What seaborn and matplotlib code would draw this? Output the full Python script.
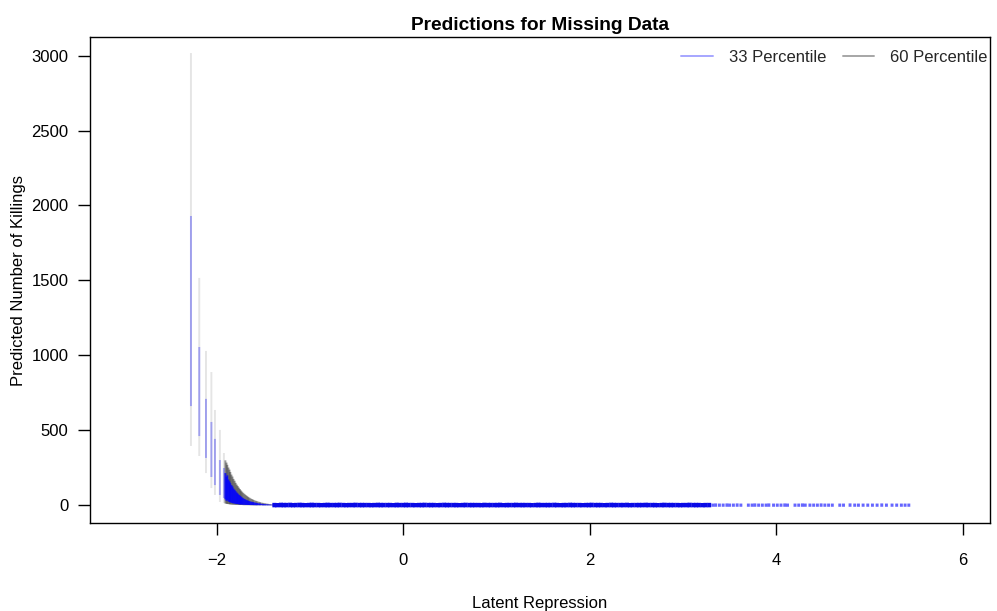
import numpy as np
import pandas as pd
import matplotlib
matplotlib.use("Agg")
import matplotlib.pyplot as plt
from matplotlib.lines import Line2D
import seaborn as sns

# ---------------- data ----------------
# sparse, individually visible intervals at the far left
sparse_x       = [-2.274, -2.185, -2.113, -2.055, -2.017, -1.964, -1.921]
sparse_blue_lo = [662, 462, 316, 189, 135, 69, 49]
sparse_blue_hi = [1930, 1056, 710, 556, 443, 302, 249]
sparse_grey_lo = [396, 329, 215, 115, 69, 22, 15]
sparse_grey_hi = [3017, 1517, 1030, 889, 636, 503, 349]

# dense cluster of intervals
dense_x = [-1.905, -1.893, -1.884, -1.872, -1.861, -1.852, -1.840, -1.829, -1.818, -1.806,
           -1.795, -1.783, -1.772, -1.760, -1.748, -1.737, -1.725, -1.713, -1.700, -1.688,
           -1.675, -1.662, -1.649, -1.636, -1.622, -1.608, -1.594, -1.579, -1.564, -1.549,
           -1.533, -1.517, -1.500, -1.483, -1.465, -1.447, -1.428, -1.409, -1.390]
dense_blue_lo = [40, 30, 35, 26, 22, 20, 17, 15, 13, 12,
                 10, 9, 8, 7, 6, 6, 5, 4, 4, 3,
                 3, 3, 2, 2, 2, 2, 1, 1, 1, 1,
                 1, 1, 0, 0, 0, 0, 0, 0, 0]
dense_blue_hi = [215, 190, 200, 172, 160, 148, 135, 126, 112, 104,
                 94, 85, 78, 70, 64, 58, 52, 47, 42, 38,
                 34, 31, 28, 25, 23, 21, 19, 17, 15, 13,
                 12, 10, 9, 8, 7, 6, 5, 4, 4]
dense_grey_lo = [12, 10, 9, 8, 7, 6, 5, 5, 4, 4,
                 3, 3, 3, 2, 2, 2, 2, 1, 1, 1,
                 1, 1, 1, 0, 0, 0, 0, 0, 0, 0,
                 0, 0, 0, 0, 0, 0, 0, 0, 0]
dense_grey_hi = [300, 285, 270, 252, 238, 222, 205, 192, 176, 164,
                 150, 138, 128, 118, 108, 99, 91, 83, 76, 69,
                 63, 57, 52, 47, 42, 38, 34, 30, 27, 24,
                 21, 18, 16, 14, 12, 10, 8, 7, 5]

# flat run of near-zero intervals
flat_x = [-1.38, -1.35, -1.31, -1.28, -1.25, -1.21, -1.18, -1.15, -1.11, -1.08,
          -1.05, -1.01, -0.98, -0.95, -0.91, -0.88, -0.84, -0.81, -0.78, -0.74,
          -0.71, -0.68, -0.64, -0.61, -0.58, -0.54, -0.51, -0.47, -0.44, -0.41,
          -0.37, -0.34, -0.31, -0.27, -0.24, -0.21, -0.17, -0.14, -0.10, -0.07,
          -0.04, 0.00, 0.03, 0.06, 0.10, 0.13, 0.17, 0.20, 0.23, 0.27,
          0.30, 0.33, 0.37, 0.40, 0.44, 0.47, 0.50, 0.54, 0.57, 0.60,
          0.64, 0.67, 0.71, 0.74, 0.77, 0.81, 0.84, 0.87, 0.91, 0.94,
          0.98, 1.01, 1.04, 1.08, 1.11, 1.14, 1.18, 1.21, 1.25, 1.28,
          1.31, 1.35, 1.38, 1.42, 1.45, 1.48, 1.52, 1.55, 1.58, 1.62,
          1.65, 1.69, 1.72, 1.75, 1.79, 1.82, 1.85, 1.89, 1.92, 1.96,
          1.99, 2.02, 2.06, 2.09, 2.12, 2.16, 2.19, 2.23, 2.26, 2.29,
          2.33, 2.36, 2.40, 2.43, 2.46, 2.50, 2.53, 2.56, 2.60, 2.63,
          2.67, 2.70, 2.73, 2.77, 2.80, 2.84, 2.87, 2.90, 2.94, 2.97,
          3.00, 3.04, 3.07, 3.11, 3.14, 3.17, 3.21, 3.24, 3.28]
flat_hi = [3, 2, 4, 3, 3, 4, 2, 3, 4, 3,
           2, 3, 4, 3, 3, 2, 3, 4, 3, 3,
           3, 4, 3, 2, 3, 3, 4, 3, 3, 3,
           3, 2, 3, 4, 3, 3, 3, 3, 2, 4,
           3, 3, 4, 3, 3, 2, 3, 3, 4, 3,
           3, 3, 2, 3, 4, 3, 3, 3, 3, 2,
           3, 4, 3, 3, 3, 3, 2, 4, 3, 3,
           3, 3, 4, 2, 3, 3, 3, 4, 3, 3,
           3, 3, 2, 3, 4, 3, 3, 3, 3, 4,
           3, 2, 3, 3, 4, 3, 3, 3, 2, 3,
           3, 4, 3, 3, 3, 2, 3, 4, 3, 3,
           3, 3, 4, 2, 3, 3, 3, 3, 4, 3,
           3, 3, 2, 3, 4, 3, 3, 3, 3, 2,
           3, 3, 4, 3, 3, 3, 2, 3, 3]

# scattered near-zero intervals at the right
tail_x = [3.32, 3.35, 3.39, 3.43, 3.47, 3.50, 3.54, 3.58, 3.62, 3.70,
          3.74, 3.77, 3.81, 3.85, 3.89, 3.92, 3.97, 4.01, 4.05, 4.09,
          4.12, 4.20, 4.24, 4.28, 4.31, 4.36, 4.40, 4.44, 4.48, 4.52,
          4.56, 4.60, 4.68, 4.72, 4.79, 4.84, 4.88, 4.93, 4.98, 5.03,
          5.08, 5.13, 5.18, 5.24, 5.29, 5.34, 5.38, 5.42]
tail_hi = [2, 3, 2, 2, 3, 2, 2, 3, 2, 2,
           2, 3, 2, 2, 2, 3, 2, 2, 2, 3,
           2, 2, 2, 3, 2, 2, 2, 2, 3, 2,
           2, 2, 2, 2, 3, 2, 2, 2, 2, 2,
           2, 3, 2, 2, 2, 2, 2, 2]

legend_labels = ["33 Percentile", "60 Percentile"]
title = "Predictions for Missing Data"
xlabel = "Latent Repression"
ylabel = "Predicted Number of Killings"
xticks = [-2, 0, 2, 4, 6]
yticks = [0, 500, 1000, 1500, 2000, 2500, 3000]


def segments(xs, lo, hi):
    rows = []
    for i, (x, a, b) in enumerate(zip(xs, lo, hi)):
        rows.append((i, x, a))
        rows.append((i, x, b))
    return pd.DataFrame(rows, columns=["seg", "x", "y"])


sns.set_theme(style="white")
plt.rcParams["font.family"] = ["Liberation Sans", "DejaVu Sans"]

fig = plt.figure(figsize=(9.97, 6.11), dpi=100)
ax = fig.add_axes([90 / 997, 1 - 523.3 / 611, 900 / 997, (523.3 - 37.3) / 611])

BLUE = "#0000ff"
GREY = "#000000"


def draw(df, color, alpha, lw, cap="butt"):
    sns.lineplot(data=df, x="x", y="y", units="seg", estimator=None, sort=False,
                 color=color, alpha=alpha, lw=lw, legend=False, ax=ax,
                 solid_capstyle=cap, snap=False)


# grey (60 percentile) first, blue (33 percentile) on top
draw(segments(sparse_x, sparse_grey_lo, sparse_grey_hi), GREY, 0.10, 1.4)
draw(segments(dense_x, dense_grey_lo, dense_grey_hi), GREY, 0.40, 1.4)
draw(segments(sparse_x, sparse_blue_lo, sparse_blue_hi), BLUE, 0.30, 1.4)
draw(segments(dense_x, dense_blue_lo, dense_blue_hi), BLUE, 0.80, 1.4)
draw(segments(flat_x, [0] * len(flat_x), flat_hi), "#0a0ae6", 1.0, 2.9, cap="projecting")
draw(segments(tail_x, [0] * len(tail_x), tail_hi), BLUE, 0.6, 2.1, cap="projecting")

ax.set_xlim(-3.356, 6.29)
ax.set_ylim(-120, 3122)
ax.set_xticks(xticks)
ax.set_xticklabels(["\u22122", "0", "2", "4", "6"])
ax.set_yticks(yticks)
ax.set_yticklabels([str(v) for v in yticks])

for s in ax.spines.values():
    s.set_visible(True)
    s.set_color("black")
    s.set_linewidth(1.0)

ax.tick_params(axis="both", which="major", direction="out", length=8.4, width=1.0,
               color="black", labelsize=12, labelcolor="black",
               bottom=True, left=True)
ax.tick_params(axis="x", pad=13)
ax.tick_params(axis="y", pad=7)

ax.set_xlabel(xlabel, fontsize=12, color="black", labelpad=20.5)
ax.set_ylabel(ylabel, fontsize=12, color="black", labelpad=4)
ax.set_title(title, fontsize=13.8, fontweight="bold", color="black", pad=5)

handles = [Line2D([], [], color=BLUE, alpha=0.35, lw=1.4),
           Line2D([], [], color=GREY, alpha=0.35, lw=1.4)]
ax.legend(handles, legend_labels, loc="upper right", bbox_to_anchor=(1.0, 0.979),
          ncol=2, frameon=False, fontsize=12, handlelength=1.9,
          handletextpad=0.95, columnspacing=1.0, borderaxespad=0.0, borderpad=0.15)

fig.savefig("out.png", dpi=100)
